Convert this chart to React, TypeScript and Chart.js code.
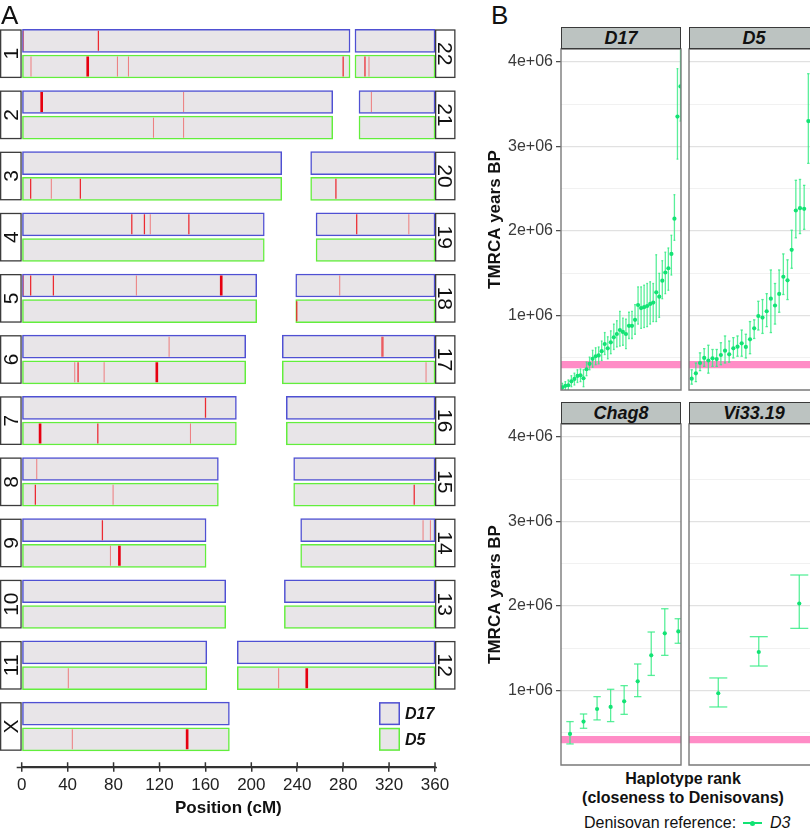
import React, { useEffect, useRef } from "react";
import { Chart, registerables } from "chart.js";

Chart.register(...registerables);

const FONT = "'Liberation Sans', Arial, Helvetica, sans-serif";

/* ---------------- Panel A : chromosome map ---------------- */
const leftChromosomes = ["1", "2", "3", "4", "5", "6", "7", "8", "9", "10", "11", "X"];
const leftLengthsCM = [286.0, 270.9, 226.5, 211.3, 204.7, 195.1, 187.0, 171.3, 160.6, 177.7, 161.2, 180.9];
const rightChromosomes = ["22", "21", "20", "19", "18", "17", "16", "15", "14", "13", "12"];
const rightLengthsCM = [69.7, 66.2, 108.3, 103.6, 121.3, 133.0, 129.5, 123.1, 117.0, 131.2, 172.2];
const positionTicks = [0, 40, 80, 120, 160, 200, 240, 280, 320, 360];
const positionMax = 360;

// [chromosome, position along chromosome (cM), strength 1 faint / 2 clear / 3 strong]
const d17Hits = [
  ["1", 1.4, 1], ["1", 66.8, 2],
  ["2", 17.4, 3], ["2", 141.0, 1],
  ["21", 10.8, 1],
  ["4", 95.9, 2], ["4", 106.9, 2], ["4", 112.0, 1], ["4", 145.6, 2],
  ["19", 35.4, 2], ["19", 80.8, 1],
  ["5", 1.4, 1], ["5", 7.8, 2], ["5", 27.6, 2], ["5", 99.9, 1], ["5", 173.8, 3],
  ["18", 38.3, 1],
  ["6", 128.4, 1],
  ["17", 86.9, 2], ["17", 88.0, 1],
  ["7", 160.1, 2],
  ["8", 13.1, 1],
  ["9", 70.3, 2],
  ["14", 106.6, 1], ["14", 113.0, 1],
];
const d5Hits = [
  ["1", 8.1, 1], ["1", 57.5, 3], ["1", 83.4, 1], ["1", 93.0, 1], ["1", 280.0, 2],
  ["22", 8.7, 2], ["22", 12.2, 1],
  ["2", 114.8, 1], ["2", 141.0, 1],
  ["3", 7.8, 2], ["3", 25.8, 1], ["3", 51.1, 2],
  ["20", 22.0, 2],
  ["18", 0.9, 2],
  ["6", 46.2, 1], ["6", 49.1, 2], ["6", 71.8, 1], ["6", 117.7, 3],
  ["17", 125.2, 1],
  ["7", 16.0, 3], ["7", 66.3, 2], ["7", 147.0, 1],
  ["8", 11.9, 2], ["8", 79.6, 1],
  ["15", 105.0, 2],
  ["9", 77.3, 1], ["9", 85.1, 3],
  ["11", 40.6, 1],
  ["12", 36.0, 1], ["12", 60.5, 3],
  ["X", 44.1, 1], ["X", 144.1, 3],
];

/* ---------------- Panel B : TMRCA (millions of years) ---------------- */
const d17Tmrca = [0.153, 0.17, 0.177, 0.224, 0.252, 0.287, 0.295, 0.26, 0.366, 0.43, 0.49, 0.52, 0.53, 0.58, 0.665, 0.614, 0.685, 0.744, 0.783, 0.83, 0.807, 0.783, 0.88, 0.88, 0.95, 1.126, 1.09, 1.10, 1.114, 1.138, 1.154, 1.276, 1.224, 1.413, 1.51, 1.56, 1.73, 2.146, 3.353, 3.71];
const d17Lower = [0.10, 0.11, 0.12, 0.16, 0.18, 0.21, 0.22, 0.16, 0.29, 0.36, 0.39, 0.42, 0.43, 0.47, 0.54, 0.49, 0.55, 0.60, 0.63, 0.64, 0.65, 0.61, 0.73, 0.73, 0.78, 0.90, 0.85, 0.86, 0.87, 0.90, 0.93, 0.93, 0.98, 1.20, 1.26, 1.30, 1.48, 1.89, 2.85, 3.30];
const d17Upper = [0.20, 0.22, 0.24, 0.29, 0.32, 0.36, 0.37, 0.36, 0.45, 0.51, 0.59, 0.62, 0.63, 0.70, 0.80, 0.75, 0.82, 0.90, 0.94, 1.05, 0.97, 0.96, 1.04, 1.05, 1.13, 1.34, 1.34, 1.36, 1.38, 1.40, 1.38, 1.72, 1.50, 1.65, 1.75, 1.80, 1.95, 2.43, 3.92, 4.60];

const d5Tmrca = [0.255, 0.318, 0.44, 0.50, 0.47, 0.495, 0.487, 0.535, 0.586, 0.543, 0.614, 0.633, 0.673, 0.63, 0.72, 0.85, 0.996, 0.977, 1.052, 1.20, 1.12, 1.257, 1.46, 1.418, 1.778, 2.243, 2.27, 2.263, 3.30];
const d5Lower = [0.19, 0.22, 0.35, 0.40, 0.32, 0.40, 0.40, 0.42, 0.44, 0.45, 0.50, 0.52, 0.52, 0.50, 0.55, 0.73, 0.83, 0.79, 0.87, 0.80, 0.90, 1.04, 1.25, 1.19, 1.56, 1.92, 1.97, 2.02, 2.80];
const d5Upper = [0.36, 0.44, 0.56, 0.61, 0.65, 0.60, 0.60, 0.68, 0.76, 0.70, 0.74, 0.76, 0.83, 0.78, 0.93, 0.95, 1.17, 1.19, 1.26, 1.54, 1.38, 1.54, 1.73, 1.66, 2.01, 2.60, 2.61, 2.54, 3.86];

const chag8Tmrca = [0.488, 0.634, 0.783, 0.807, 0.874, 1.11, 1.417, 1.677, 1.70];
const chag8Lower = [0.37, 0.555, 0.654, 0.634, 0.72, 0.929, 1.18, 1.417, 1.56];
const chag8Upper = [0.634, 0.724, 0.929, 1.016, 1.059, 1.315, 1.693, 1.968, 1.85];

const vi3319Tmrca = [0.969, 1.457, 2.03];
const vi3319Lower = [0.807, 1.291, 1.736];
const vi3319Upper = [1.15, 1.638, 2.367];

const bandLower = 0.378;
const bandUpper = 0.465;
const tmrcaMin = 0.121;
const tmrcaMax = 4.152;

/* ---------------- styles ---------------- */
const D17_BORDER = "#4f50d3";
const D5_BORDER = "#62ee3c";
const CHROM_FILL = "#e8e5e8";
const TRACK_OFFSET = 0.21;
const BAR_PX = 23;
const HIT_STYLE: any = {
  1: { half: 0.45, color: "rgba(240,60,60,0.6)" },
  2: { half: 0.55, color: "rgba(236,26,34,0.92)" },
  3: { half: 1.15, color: "#e60010" },
};
const PT_COLOR = "#12e374";
const ERR_COLOR = "rgba(52,236,132,0.82)";
const BAND_COLOR = "#ff8cc6";

function chromBars(offset: number) {
  const bars: any[] = [];
  leftLengthsCM.forEach((len, i) => bars.push({ x: [0, len], y: i + offset }));
  rightLengthsCM.forEach((len, j) => bars.push({ x: [positionMax - len, positionMax], y: j + offset }));
  return bars;
}

function hitBars(hits: any[], offset: number) {
  return hits.map(([c, pos, w]) => {
    let row = leftChromosomes.indexOf(c);
    let start = 0;
    if (row < 0) {
      row = rightChromosomes.indexOf(c);
      start = positionMax - rightLengthsCM[row];
    }
    const x = start + pos;
    const h = HIT_STYLE[w].half;
    return { x: [x - h, x + h], y: row + offset, w };
  });
}

const chromDecor = {
  id: "chromDecor",
  afterDraw(chart: any) {
    const { ctx, chartArea, scales } = chart;
    const x = scales.x;
    const y = scales.y;
    ctx.save();
    const box = (l: number, r: number, t: number, b: number, label: string, rot: number) => {
      ctx.fillStyle = "#ffffff";
      ctx.fillRect(l, t, r - l, b - t);
      ctx.strokeStyle = "#3c3c3c";
      ctx.lineWidth = 1.3;
      ctx.strokeRect(l + 0.65, t + 0.65, r - l - 1.3, b - t - 1.3);
      ctx.save();
      ctx.translate((l + r) / 2, (t + b) / 2);
      ctx.rotate(rot);
      ctx.fillStyle = "#111";
      ctx.font = `21px ${FONT}`;
      ctx.textAlign = "center";
      ctx.textBaseline = "middle";
      ctx.fillText(label, 0, 1);
      ctx.restore();
    };
    leftChromosomes.forEach((c, i) => {
      const t = y.getPixelForValue(i - TRACK_OFFSET) - BAR_PX / 2;
      const b = y.getPixelForValue(i + TRACK_OFFSET) + BAR_PX / 2;
      box(chartArea.left - 21.7, chartArea.left, t, b, c, -Math.PI / 2);
    });
    rightChromosomes.forEach((c, j) => {
      const t = y.getPixelForValue(j - TRACK_OFFSET) - BAR_PX / 2;
      const b = y.getPixelForValue(j + TRACK_OFFSET) + BAR_PX / 2;
      box(chartArea.right, chartArea.right + 20.5, t, b, c, Math.PI / 2);
    });
    // legend
    const items = [
      { label: "D17", border: D17_BORDER, off: -TRACK_OFFSET },
      { label: "D5", border: D5_BORDER, off: TRACK_OFFSET },
    ];
    const last = leftChromosomes.length - 1;
    items.forEach((it) => {
      const cy = y.getPixelForValue(last + it.off);
      const bx = chartArea.right - 56;
      ctx.fillStyle = CHROM_FILL;
      ctx.fillRect(bx, cy - BAR_PX / 2, 21, BAR_PX);
      ctx.strokeStyle = it.border;
      ctx.lineWidth = 1.5;
      ctx.strokeRect(bx + 0.75, cy - BAR_PX / 2 + 0.75, 19.5, BAR_PX - 1.5);
      ctx.fillStyle = "#111";
      ctx.font = `italic bold 16px ${FONT}`;
      ctx.textAlign = "left";
      ctx.textBaseline = "middle";
      ctx.fillText(it.label, bx + 26, cy + 1);
    });
    // axis: extended line + upward tick marks
    ctx.strokeStyle = "#333";
    ctx.lineWidth = 1.5;
    ctx.beginPath();
    ctx.moveTo(x.left - 5, x.top + 0.75);
    ctx.lineTo(x.right + 2, x.top + 0.75);
    positionTicks.forEach((v) => {
      const px = x.getPixelForValue(v);
      ctx.moveTo(px, x.top - 4.5);
      ctx.lineTo(px, x.top + 0.75);
    });
    ctx.stroke();
    ctx.restore();
  },
};

function ChromosomeMap() {
  const ref = useRef<HTMLCanvasElement>(null);
  useEffect(() => {
    const chart = new Chart(ref.current as any, {
      type: "bar",
      data: {
        datasets: [
          {
            label: "hits",
            data: [...hitBars(d17Hits, -TRACK_OFFSET), ...hitBars(d5Hits, TRACK_OFFSET)],
            backgroundColor: (c: any) => (c.raw ? HIT_STYLE[c.raw.w].color : "red"),
            borderWidth: 0,
            barThickness: BAR_PX - 3,
            grouped: false,
            inflateAmount: 0,
            order: 0,
          },
          {
            label: "D17",
            data: chromBars(-TRACK_OFFSET),
            backgroundColor: CHROM_FILL,
            borderColor: D17_BORDER,
            borderWidth: 1.5,
            borderSkipped: false,
            barThickness: BAR_PX,
            grouped: false,
            order: 1,
          },
          {
            label: "D5",
            data: chromBars(TRACK_OFFSET),
            backgroundColor: CHROM_FILL,
            borderColor: D5_BORDER,
            borderWidth: 1.5,
            borderSkipped: false,
            barThickness: BAR_PX,
            grouped: false,
            order: 2,
          },
        ],
      } as any,
      options: {
        indexAxis: "y",
        animation: false,
        responsive: false,
        devicePixelRatio: 1,
        events: [],
        layout: { autoPadding: false, padding: { left: 21.7, right: 25, top: 20, bottom: 0 } },
        plugins: { legend: { display: false }, tooltip: { enabled: false } },
        scales: {
          x: {
            type: "linear",
            position: "bottom",
            min: 0,
            max: positionMax,
            afterBuildTicks: (s: any) => {
              s.ticks = positionTicks.map((v) => ({ value: v }));
            },
            afterFit: (s: any) => {
              s.height = 67.3;
            },
            ticks: { autoSkip: false, maxRotation: 0, padding: 3, color: "#222", font: { family: FONT, size: 17 } },
            grid: { drawOnChartArea: false, drawTicks: true, tickLength: 5, color: "#333", lineWidth: 1.5 },
            border: { display: true, color: "#333", width: 1.5 },
            title: {
              display: true,
              text: "Position (cM)",
              color: "#111",
              font: { family: FONT, size: 17, weight: "bold" },
              padding: { top: 4, bottom: 15.8 },
            },
          },
          y: { type: "linear", display: false, reverse: true, min: -0.551, max: 11.658, offset: false },
        },
      } as any,
      plugins: [chromDecor],
    });
    return () => chart.destroy();
  }, []);
  return <canvas ref={ref} width={460} height={834} style={{ position: "absolute", left: 0, top: 0, width: 460, height: 834 }} />;
}

const panelBorder = {
  id: "panelBorder",
  afterDraw(chart: any, _a: any, opts: any) {
    const { ctx, chartArea: a } = chart;
    ctx.save();
    ctx.strokeStyle = "#7a7a7a";
    ctx.lineWidth = 1.4;
    ctx.beginPath();
    if (opts && opts.openRight) {
      ctx.moveTo(a.right + 3, a.top);
      ctx.lineTo(a.left, a.top);
      ctx.lineTo(a.left, a.bottom);
      ctx.lineTo(a.right + 3, a.bottom);
    } else {
      ctx.rect(a.left, a.top, a.right - a.left, a.bottom - a.top);
    }
    ctx.stroke();
    ctx.restore();
  },
};

const isMajor = (v: number) => Math.abs(v - Math.round(v)) < 1e-6;

type FacetProps = {
  est: number[];
  lo: number[];
  hi: number[];
  xMin: number;
  xMax: number;
  capHalf: number;
  left: number;
  top: number;
  width: number;
  height: number;
  leftAxis: boolean;
};

function Facet(p: FacetProps) {
  const ref = useRef<HTMLCanvasElement>(null);
  useEffect(() => {
    const ranks = p.est.map((_, i) => i + 1);
    const gridColor = (c: any) => (c.tick && isMajor(c.tick.value) ? "#e1e1e1" : "#eeeeee");
    const gridWidth = (c: any) => (c.tick && isMajor(c.tick.value) ? 1.3 : 0.8);
    const chart = new Chart(ref.current as any, {
      type: "bar",
      data: {
        datasets: [
          {
            type: "line",
            data: [{ x: p.xMin, y: bandUpper }, { x: p.xMax, y: bandUpper }],
            borderColor: "transparent",
            borderWidth: 0,
            pointRadius: 0,
            fill: false,
            order: 6,
          },
          {
            type: "line",
            data: [{ x: p.xMin, y: bandLower }, { x: p.xMax, y: bandLower }],
            borderColor: "transparent",
            borderWidth: 0,
            pointRadius: 0,
            fill: "-1",
            backgroundColor: BAND_COLOR,
            order: 5,
          },
          {
            type: "bar",
            data: ranks.map((r, i) => ({ x: r, y: [p.lo[i], p.hi[i]] })),
            backgroundColor: ERR_COLOR,
            borderWidth: 0,
            barThickness: 1.3,
            grouped: false,
            inflateAmount: 0,
            clip: 0,
            order: 4,
          },
          {
            type: "line",
            data: ranks.map((r, i) => ({ x: r, y: p.lo[i] })),
            showLine: false,
            pointStyle: "line",
            pointRadius: p.capHalf,
            borderColor: ERR_COLOR,
            borderWidth: 1.3,
            order: 3,
          },
          {
            type: "line",
            data: ranks.map((r, i) => ({ x: r, y: p.hi[i] })),
            showLine: false,
            pointStyle: "line",
            pointRadius: p.capHalf,
            borderColor: ERR_COLOR,
            borderWidth: 1.3,
            order: 2,
          },
          {
            type: "line",
            data: ranks.map((r, i) => ({ x: r, y: p.est[i] })),
            showLine: false,
            pointRadius: 2.1,
            pointBackgroundColor: PT_COLOR,
            pointBorderWidth: 0,
            borderColor: PT_COLOR,
            order: 1,
          },
        ],
      } as any,
      options: {
        animation: false,
        responsive: false,
        devicePixelRatio: 1,
        events: [],
        layout: {
          autoPadding: false,
          padding: p.leftAxis ? { left: 0, right: 2, top: 2, bottom: 2 } : { left: 2, right: 0, top: 2, bottom: 2 },
        },
        plugins: { legend: { display: false }, tooltip: { enabled: false }, panelBorder: { openRight: !p.leftAxis } },
        scales: {
          x: { type: "linear", min: p.xMin, max: p.xMax, display: false, offset: false, grid: { offset: false } },
          y: {
            type: "linear",
            min: tmrcaMin,
            max: tmrcaMax,
            position: "left",
            afterFit: (s: any) => {
              s.width = p.leftAxis ? 83 : 0;
              s.paddingTop = 0;
              s.paddingBottom = 0;
              s.paddingLeft = 0;
              s.paddingRight = 0;
            },
            ticks: {
              display: p.leftAxis,
              stepSize: 0.5,
              includeBounds: false,
              autoSkip: false,
              padding: 3,
              color: "#3a3a3a",
              font: { family: FONT, size: 16 },
              callback: (v: any) => (isMajor(v) ? `${Math.round(v)}e+06` : ""),
            },
            grid: {
              color: gridColor,
              lineWidth: gridWidth,
              drawTicks: p.leftAxis,
              tickLength: 5,
              tickWidth: 1.2,
              tickColor: (c: any) => (c.tick && isMajor(c.tick.value) ? "#444" : "transparent"),
            },
            border: { display: false },
            title: {
              display: p.leftAxis,
              text: "TMRCA years BP",
              color: "#111",
              font: { family: FONT, size: 17, weight: "bold" },
              padding: { top: 7.3, bottom: 0 },
            },
          },
        },
      } as any,
      plugins: [panelBorder],
    });
    return () => chart.destroy();
  }, []);
  return (
    <canvas
      ref={ref}
      width={p.width}
      height={p.height}
      style={{ position: "absolute", left: p.left, top: p.top, width: p.width, height: p.height }}
    />
  );
}

function Strip({ label, left, top, width }: { label: string; left: number; top: number; width: number }) {
  return (
    <div
      style={{
        position: "absolute",
        left,
        top,
        width,
        height: 22,
        boxSizing: "border-box",
        background: "#bcc3c1",
        border: "1px solid #3a3a3a",
        textAlign: "center",
        fontFamily: FONT,
        fontWeight: "bold",
        fontStyle: "italic",
        fontSize: 18,
        lineHeight: "20px",
        color: "#111",
      }}
    >
      {label}
    </div>
  );
}

export default function App() {
  return (
    <div
      style={{
        position: "absolute",
        left: 0,
        top: 0,
        width: 810,
        height: 834,
        overflow: "hidden",
        background: "#ffffff",
        fontFamily: FONT,
      }}
    >
      <ChromosomeMap />
      <Facet est={d17Tmrca} lo={d17Lower} hi={d17Upper} xMin={0.571} xMax={40.17} capHalf={0.9} left={478} top={47} width={205} height={345} leftAxis={true} />
      <Facet est={d5Tmrca} lo={d5Lower} hi={d5Upper} xMin={0.352} xMax={29.4} capHalf={1.2} left={687} top={47} width={123} height={345} leftAxis={false} />
      <Facet est={chag8Tmrca} lo={chag8Lower} hi={chag8Upper} xMin={0.335} xMax={9.198} capHalf={3.7} left={478} top={422} width={205} height={345} leftAxis={true} />
      <Facet est={vi3319Tmrca} lo={vi3319Lower} hi={vi3319Upper} xMin={0.277} xMax={3.265} capHalf={9} left={687} top={422} width={123} height={345} leftAxis={false} />
      <Strip label="D17" left={561} top={27} width={120} />
      <Strip label="D5" left={689} top={27} width={130} />
      <Strip label="Chag8" left={561} top={402} width={120} />
      <Strip label="Vi33.19" left={689} top={402} width={130} />
      <div style={{ position: "absolute", left: 1, top: 0, fontSize: 26, lineHeight: "30px", color: "#111" }}>A</div>
      <div style={{ position: "absolute", left: 491, top: 0, fontSize: 26, lineHeight: "30px", color: "#111" }}>B</div>
      <div
        style={{
          position: "absolute",
          left: 533,
          top: 769,
          width: 300,
          textAlign: "center",
          fontSize: 16,
          fontWeight: "bold",
          lineHeight: "19.3px",
          color: "#111",
          whiteSpace: "nowrap",
        }}
      >
        Haplotype rank
        <br />
        (closeness to Denisovans)
      </div>
      <div style={{ position: "absolute", left: 584, top: 813, fontSize: 16, lineHeight: "20px", color: "#111", whiteSpace: "nowrap" }}>
        Denisovan reference:
      </div>
      <div style={{ position: "absolute", left: 743, top: 822.3, width: 19, height: 1.6, background: PT_COLOR }} />
      <div style={{ position: "absolute", left: 750, top: 820.5, width: 5, height: 5, borderRadius: "50%", background: PT_COLOR }} />
      <div style={{ position: "absolute", left: 770, top: 813, fontSize: 16, lineHeight: "20px", fontStyle: "italic", color: "#111" }}>D3</div>
    </div>
  );
}
